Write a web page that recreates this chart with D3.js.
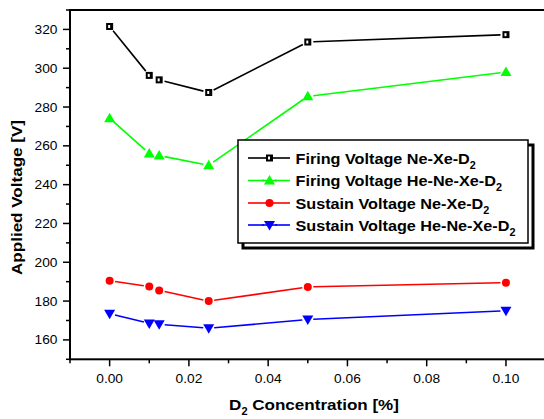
<!DOCTYPE html>
<html><head><meta charset="utf-8">
<script src="https://cdn.jsdelivr.net/npm/d3@7"></script>
<style>body{margin:0;background:#fff}svg{display:block}text{font-family:Arial,"Liberation Sans",sans-serif}</style>
</head><body><svg id="c" width="544" height="419"></svg>
<script>
const xValues = [0, 0.01, 0.0125, 0.025, 0.05, 0.1];
const firingNeXe = [321.5, 296.3, 294, 287.5, 313.5, 317.3];
const firingHeNeXe = [274.2, 256, 255, 250, 285.5, 298];
const sustainNeXe = [190.5, 187.5, 185.5, 180, 187.3, 189.5];
const sustainHeNeXe = [173.5, 168.5, 168, 166, 170.5, 175];
const xTicks = [0, 0.02, 0.04, 0.06, 0.08, 0.10];
const yTicks = [160, 180, 200, 220, 240, 260, 280, 300, 320];
const seriesNames = ["Firing Voltage Ne-Xe-D", "Firing Voltage He-Ne-Xe-D", "Sustain Voltage Ne-Xe-D", "Sustain Voltage He-Ne-Xe-D"];

const series = [
  {name: seriesNames[0], vals: firingNeXe, color: "#000000", shape: "square"},
  {name: seriesNames[1], vals: firingHeNeXe, color: "#00ff00", shape: "tri"},
  {name: seriesNames[2], vals: sustainNeXe, color: "#ff0000", shape: "circle"},
  {name: seriesNames[3], vals: sustainHeNeXe, color: "#0000ff", shape: "tridown"}
];

const svg = d3.select("#c");
const L = 70, T = 10, R = 545.6, B = 359.3;
const x = d3.scaleLinear().domain([-0.01, 0.11]).range([L, R]);
const y = d3.scaleLinear().domain([150, 330]).range([B, T]);
const SX = 1.1;

const g = svg.append("g");
d3.range(-0.01, 0.1101, 0.01).forEach(v => {
  const major = Math.abs(Math.round(v*100) % 2) === 0;
  g.append("line").attr("x1", x(v)).attr("x2", x(v)).attr("y1", B).attr("y2", B + (major ? 7 : 4)).attr("stroke", "#000").attr("stroke-width", 1.5);
});
d3.range(150, 331, 10).forEach(v => {
  const major = v % 20 === 0;
  g.append("line").attr("x1", L).attr("x2", L - (major ? 7 : 4)).attr("y1", y(v)).attr("y2", y(v)).attr("stroke", "#000").attr("stroke-width", 1.5);
});
xTicks.forEach(v => {
  g.append("text").attr("transform", `translate(${x(v)},${B + 24}) scale(${SX},1)`).attr("text-anchor", "middle").attr("font-size", 12.5).text(v.toFixed(2));
});
yTicks.forEach(v => {
  g.append("text").attr("transform", `translate(${L - 12.5},${y(v) + 4.5}) scale(${SX},1)`).attr("text-anchor", "end").attr("font-size", 12.5).text(v);
});
svg.append("rect").attr("x", L).attr("y", T).attr("width", R - L).attr("height", B - T).attr("fill", "none").attr("stroke", "#000").attr("stroke-width", 2);

svg.append("text").attr("transform", `translate(22,197.5) rotate(-90) scale(1.1,1)`).attr("text-anchor", "middle").attr("font-size", 15.5).attr("font-weight", "bold").text("Applied Voltage [V]");
const xt = svg.append("text").attr("transform", `translate(314,410) scale(1.1,1)`).attr("text-anchor", "middle").attr("font-size", 15.5).attr("font-weight", "bold");
xt.append("tspan").text("D");
xt.append("tspan").attr("font-size", 10).attr("dy", 5).text("2");
xt.append("tspan").attr("dy", -5).text(" Concentration [%]");

function marker(sel, shape, color, cx, cy) {
  if (shape === "square") {
    sel.append("rect").attr("x", cx - 3.5).attr("y", cy - 3.5).attr("width", 7).attr("height", 7).attr("fill", "#000");
    sel.append("rect").attr("x", cx - 1.5).attr("y", cy - 1.5).attr("width", 2).attr("height", 3).attr("fill", "#fff");
  } else if (shape === "tri") {
    sel.append("path").attr("d", `M${cx},${cy-5.5}L${cx+5.5},${cy+4}L${cx-5.5},${cy+4}Z`).attr("fill", color);
  } else if (shape === "tridown") {
    sel.append("path").attr("d", `M${cx},${cy+5.5}L${cx+5.5},${cy-4}L${cx-5.5},${cy-4}Z`).attr("fill", color);
  } else {
    sel.append("circle").attr("cx", cx).attr("cy", cy).attr("r", 4).attr("fill", color);
  }
}

const gap = 5.5;
series.forEach(s => {
  const gs = svg.append("g");
  const pts = xValues.map((xv, i) => [x(xv), y(s.vals[i])]);
  for (let i = 0; i < pts.length - 1; i++) {
    const [x1, y1] = pts[i], [x2, y2] = pts[i+1];
    const d = Math.hypot(x2 - x1, y2 - y1);
    if (d <= 2 * gap) continue;
    const ux = (x2 - x1) / d, uy = (y2 - y1) / d;
    gs.append("line").attr("x1", x1 + ux*gap).attr("y1", y1 + uy*gap).attr("x2", x2 - ux*gap).attr("y2", y2 - uy*gap)
      .attr("stroke", s.color).attr("stroke-width", 1.6);
  }
  pts.forEach(p => marker(gs, s.shape, s.color, p[0], p[1]));
});

const lx = 238, ly = 140, lw = 290, lh = 103;
svg.append("rect").attr("x", lx + 5).attr("y", ly + 5).attr("width", lw).attr("height", lh).attr("fill", "none").attr("stroke", "#000").attr("stroke-width", 3);
svg.append("rect").attr("x", lx).attr("y", ly).attr("width", lw).attr("height", lh).attr("fill", "#fff").attr("stroke", "#000").attr("stroke-width", 1.5);
const rowsY = [158, 180.5, 203, 225];
series.forEach((s, i) => {
  const gl = svg.append("g");
  const cy = rowsY[i];
  gl.append("line").attr("x1", 248).attr("x2", 264).attr("y1", cy).attr("y2", cy).attr("stroke", s.color).attr("stroke-width", 1.6);
  gl.append("line").attr("x1", 275).attr("x2", 290).attr("y1", cy).attr("y2", cy).attr("stroke", s.color).attr("stroke-width", 1.6);
  if (s.shape === "square" || s.shape === "circle") {
    gl.append("line").attr("x1", 264).attr("x2", 275).attr("y1", cy).attr("y2", cy).attr("stroke", s.color).attr("stroke-width", 1.6);
  } else {
    gl.append("line").attr("x1", 262).attr("x2", 277).attr("y1", cy).attr("y2", cy).attr("stroke", s.color).attr("stroke-width", 1.6);
  }
  marker(gl, s.shape, s.color, 269.5, cy);
  const t = gl.append("text").attr("transform", `translate(295.5,${cy + 5.5}) scale(1.08,1)`).attr("font-size", 15).attr("font-weight", "bold");
  t.append("tspan").text(s.name);
  t.append("tspan").attr("font-size", 10).attr("dy", 5).text("2");
});
</script></body></html>
